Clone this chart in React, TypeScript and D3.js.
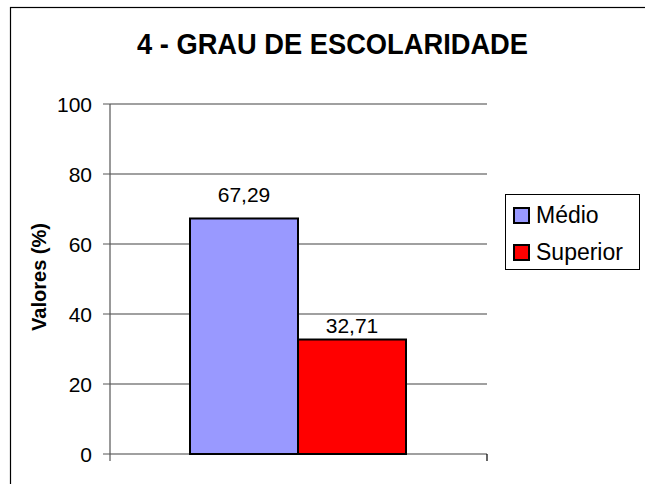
import React from "react";
import * as d3 from "d3";

const categories = ["Médio", "Superior"];
const values = [67.29, 32.71];
const colors = ["#9999FF", "#FF0000"];
const yTicks = [0, 20, 40, 60, 80, 100];
const title = "4 - GRAU DE ESCOLARIDADE";
const yLabel = "Valores (%)";

export default function App() {
  const W = 645, H = 484;
  const plotL = 110, plotR = 487, plotT = 104, plotB = 454;
  const y = d3.scaleLinear().domain([0, 100]).range([plotB, plotT]);
  const x = d3.scaleBand().domain(categories).range([190, 406]).padding(0);
  const font = "Liberation Sans, Arial, sans-serif";
  const fmt = (v: number) => v.toFixed(2).replace(".", ",");
  const labelGap = [16, 7];
  return (
    <svg width={W} height={H} style={{ position: "absolute", left: 0, top: 0, background: "#fff" }} fontFamily={font}>
      <rect x={10.5} y={7.5} width={W} height={H} fill="white" stroke="#000" strokeWidth={1.2} />
      <text x={332.5} y={54} textAnchor="middle" fontSize={29} fontWeight="bold" textLength={391} lengthAdjust="spacingAndGlyphs">{title}</text>
      {yTicks.map((t) => (
        <g key={t}>
          <line x1={plotL} x2={plotR} y1={y(t)} y2={y(t)} stroke="#808080" strokeWidth={1.5} />
          <line x1={plotL - 7} x2={plotL} y1={y(t)} y2={y(t)} stroke="#555" strokeWidth={1} />
          <text x={92} y={y(t) + 7.5} textAnchor="end" fontSize={21}>{t}</text>
        </g>
      ))}
      <line x1={plotL} x2={plotL} y1={plotT} y2={plotB + 7} stroke="#555" strokeWidth={1.2} />
      <line x1={plotR} x2={plotR} y1={plotB} y2={plotB + 7} stroke="#000" strokeWidth={1.2} />
      {categories.map((c, i) => (
        <g key={c}>
          <rect x={x(c)!} y={y(values[i])} width={x.bandwidth()} height={plotB - y(values[i])} fill={colors[i]} stroke="#000" strokeWidth={2} />
          <text x={x(c)! + x.bandwidth() / 2} y={y(values[i]) - labelGap[i]} textAnchor="middle" fontSize={21}>{fmt(values[i])}</text>
        </g>
      ))}
      <text transform={`translate(46,277) rotate(-90)`} textAnchor="middle" fontSize={20} fontWeight="bold">{yLabel}</text>
      <rect x={505.5} y={194.5} width={134} height={75} fill="white" stroke="#000" strokeWidth={1} />
      {categories.map((c, i) => (
        <g key={c}>
          <rect x={514} y={208 + i * 37} width={15} height={15} fill={colors[i]} stroke="#000" strokeWidth={2} />
          <text x={536} y={223 + i * 37} fontSize={23}>{c}</text>
        </g>
      ))}
    </svg>
  );
}
